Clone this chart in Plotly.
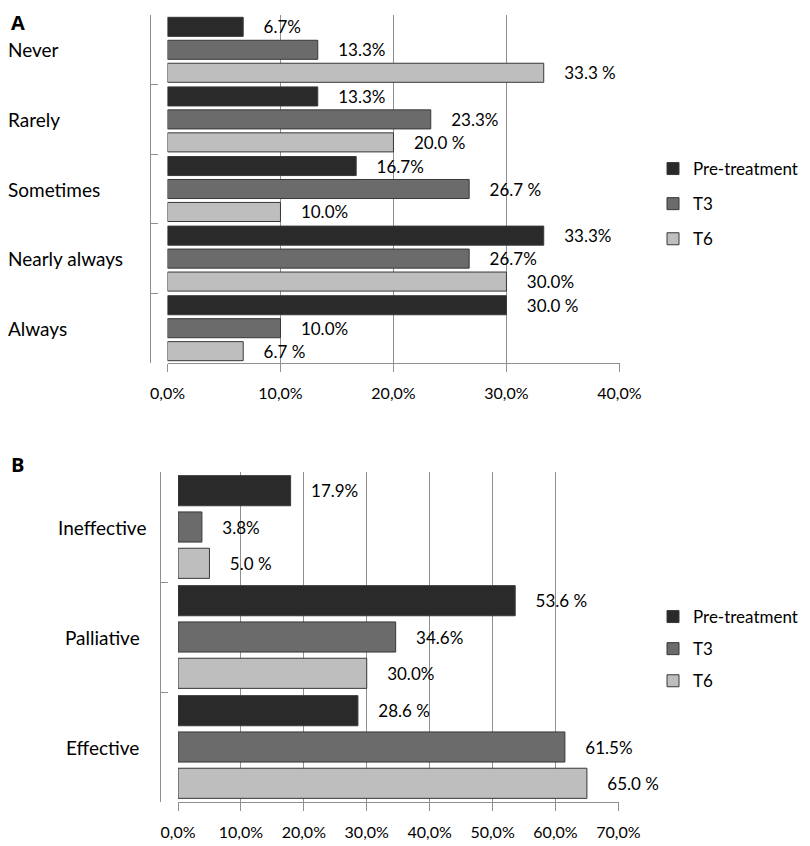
import plotly.graph_objects as go
from plotly.subplots import make_subplots

# panel A: frequency categories
freq_categories = ['Never', 'Rarely', 'Sometimes', 'Nearly always', 'Always']
freq_pre = [6.7, 13.3, 16.7, 33.3, 30.0]
freq_t3 = [13.3, 23.3, 26.7, 26.7, 10.0]
freq_t6 = [33.3, 20.0, 10.0, 30.0, 6.7]
freq_pre_text = ['6.7%', '13.3%', '16.7%', '33.3%', '30.0 %']
freq_t3_text = ['13.3%', '23.3%', '26.7 %', '26.7%', '10.0%']
freq_t6_text = ['33.3 %', '20.0 %', '10.0%', '30.0%', '6.7 %']
freq_ticks = [0, 10, 20, 30, 40]

# panel B: effectiveness categories
eff_categories = ['Ineffective', 'Palliative', 'Effective']
eff_pre = [17.9, 53.6, 28.6]
eff_t3 = [3.8, 34.6, 61.5]
eff_t6 = [5.0, 30.0, 65.0]
eff_pre_text = ['17.9%', '53.6 %', '28.6 %']
eff_t3_text = ['3.8%', '34.6%', '61.5%']
eff_t6_text = ['5.0 %', '30.0%', '65.0 %']
eff_ticks = [0, 10, 20, 30, 40, 50, 60, 70]

SERIES = ['Pre-treatment', 'T3', 'T6']
COLORS = ['#2a2a2a', '#6b6b6b', '#bebebe']
FONT = 'Lato'

# the page body adds an 8px margin, so the figure is a bit smaller than the window
OFFSET = 8
W, H = 810 - OFFSET, 846 - OFFSET


def fx(x):
    """Window pixel x -> paper x."""
    return (x - OFFSET) / W


def fy(y):
    """Window pixel y -> paper y."""
    return 1 - (y - OFFSET) / H


fig = make_subplots(rows=2, cols=1)


def add_panel(row, legend, categories, values, texts):
    for name, vals, txt, color in zip(SERIES, values, texts, COLORS):
        fig.add_trace(go.Bar(
            name=name,
            y=categories,
            x=vals,
            orientation='h',
            text=['    ' + t for t in txt],
            textposition='outside',
            constraintext='none',
            cliponaxis=False,
            textfont={'size': 17, 'color': 'black', 'family': FONT},
            marker={'color': color, 'line': {'color': '#383838', 'width': 1}},
            legend=legend,
            legendgroup=legend + name,
        ), row=row, col=1)


def tick_text(ticks):
    return ['{},0%'.format(t) for t in ticks]


add_panel(1, 'legend', freq_categories, [freq_pre, freq_t3, freq_t6],
          [freq_pre_text, freq_t3_text, freq_t6_text])
add_panel(2, 'legend2', eff_categories, [eff_pre, eff_t3, eff_t6],
          [eff_pre_text, eff_t3_text, eff_t6_text])

xaxis_common = {
    'automargin': False,
    'showgrid': True,
    'gridcolor': '#8f8f8f',
    'gridwidth': 1,
    'zeroline': False,
    'showline': True,
    'linecolor': '#8f8f8f',
    'ticks': 'outside',
    'ticklen': 8,
    'tickcolor': '#8f8f8f',
    'tickmode': 'array',
    'ticklabelstandoff': 8,
    'tickfont': {'size': 16, 'color': 'black', 'family': FONT},
}
yaxis_common = {
    'automargin': False,
    'anchor': 'free',
    'autorange': 'reversed',
    'showline': True,
    'linecolor': '#8f8f8f',
    'ticks': 'inside',
    'tickson': 'boundaries',
    'ticklen': 7,
    'tickcolor': '#8f8f8f',
    'showticklabels': False,
    'showgrid': False,
}

fig.update_xaxes(domain=[fx(167.5), fx(620)], range=[0, 40.05],
                 tickvals=freq_ticks, ticktext=tick_text(freq_ticks),
                 row=1, col=1, **xaxis_common)
fig.update_xaxes(domain=[fx(178), fx(619)], range=[0, 70.1],
                 tickvals=eff_ticks, ticktext=tick_text(eff_ticks),
                 row=2, col=1, **xaxis_common)
fig.update_yaxes(domain=[fy(363), fy(15)], position=fx(150),
                 row=1, col=1, **yaxis_common)
fig.update_yaxes(domain=[fy(802), fy(472)], position=fx(160),
                 row=2, col=1, **yaxis_common)

annotations = []
for cat in freq_categories:
    annotations.append({'text': cat, 'xref': 'paper', 'yref': 'y', 'x': fx(6),
                        'y': cat, 'xanchor': 'left', 'showarrow': False,
                        'font': {'size': 19, 'color': 'black', 'family': FONT}})
for cat in eff_categories:
    annotations.append({'text': cat, 'xref': 'paper', 'yref': 'y2', 'x': fx(102),
                        'y': cat, 'xanchor': 'center', 'showarrow': False,
                        'font': {'size': 19, 'color': 'black', 'family': FONT}})
for letter, ypos in [('A', 22), ('B', 464)]:
    annotations.append({'text': '<b>' + letter + '</b>', 'xref': 'paper',
                        'yref': 'paper', 'x': fx(9), 'y': fy(ypos),
                        'xanchor': 'left', 'yanchor': 'middle', 'showarrow': False,
                        'font': {'size': 20, 'color': 'black', 'family': 'Open Sans'}})

legend_common = {
    'x': fx(653),
    'xanchor': 'left',
    'yanchor': 'middle',
    'traceorder': 'grouped',
    'font': {'size': 17, 'color': 'black', 'family': FONT},
    'bgcolor': 'rgba(0,0,0,0)',
    'itemwidth': 30,
}

fig.update_layout(
    width=W,
    height=H,
    margin={'t': 0, 'b': 0, 'l': 0, 'r': 0},
    plot_bgcolor='white',
    paper_bgcolor='white',
    barmode='group',
    bargap=0.01,
    bargroupgap=0.17,
    font={'family': FONT, 'color': 'black'},
    annotations=annotations,
    legend={**legend_common, 'y': fy(204), 'tracegroupgap': 10},
    legend2={**legend_common, 'y': fy(649), 'tracegroupgap': 7},
)

fig.write_html('out.html')
